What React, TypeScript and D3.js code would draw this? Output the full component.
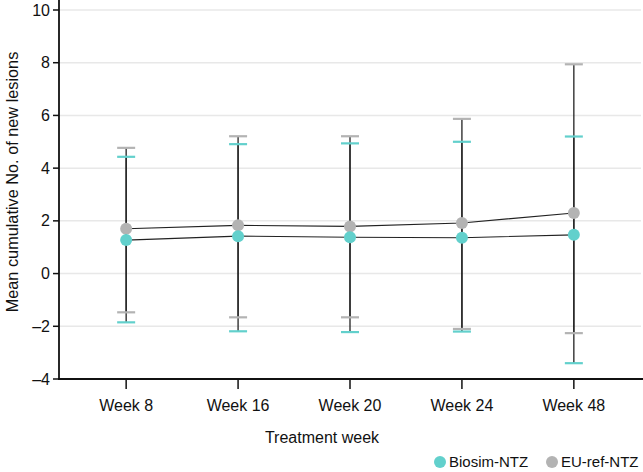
import React from "react";
import * as d3 from "d3";

const weeks = ["Week 8", "Week 16", "Week 20", "Week 24", "Week 48"];
const biosimMean = [1.27, 1.42, 1.38, 1.36, 1.47];
const biosimUpper = [4.43, 4.91, 4.94, 5.0, 5.2];
const biosimLower = [-1.85, -2.19, -2.22, -2.2, -3.4];
const euMean = [1.7, 1.83, 1.79, 1.92, 2.3];
const euUpper = [4.77, 5.21, 5.21, 5.87, 7.94];
const euLower = [-1.47, -1.66, -1.66, -2.1, -2.26];
const yTicks = [-4, -2, 0, 2, 4, 6, 8, 10];
const seriesNames = ["Biosim-NTZ", "EU-ref-NTZ"];

const W = 643;
const H = 472;
const TEAL = "#62d0cc";
const GRAY = "#b3b3b3";
const FONT = "'Liberation Sans', Arial, sans-serif";

export default function App() {
  const x = d3.scalePoint<string>().domain(weeks).range([59, 641]).padding(0.6);
  const y = d3.scaleLinear().domain([-4, 10]).range([379, 10]);

  const series = [
    { name: seriesNames[1], color: GRAY, mean: euMean, up: euUpper, lo: euLower },
    { name: seriesNames[0], color: TEAL, mean: biosimMean, up: biosimUpper, lo: biosimLower },
  ];

  const line = d3
    .line<number>()
    .x((_, i) => x(weeks[i]) as number)
    .y((d) => y(d));

  const capW = 9;

  return (
    <svg width={W} height={H} style={{ position: "absolute", left: 0, top: 0 }} fontFamily={FONT}>
      {yTicks.map((t) => (
        <line key={"g" + t} x1={59} x2={641} y1={y(t)} y2={y(t)} stroke="#e8e8e8" strokeWidth={1.5} />
      ))}
      {series.map((s) =>
        weeks.map((w, i) => (
          <line key={s.name + "s" + i} x1={x(w)} x2={x(w)} y1={y(s.up[i])} y2={y(s.lo[i])} stroke="#222" strokeWidth={1.3} />
        ))
      )}
      {[series[1], series[0]].map((s) =>
        weeks.map((w, i) => (
          <g key={s.name + "c" + i}>
            <line x1={(x(w) as number) - capW} x2={(x(w) as number) + capW} y1={y(s.up[i])} y2={y(s.up[i])} stroke={s.color} strokeWidth={2.2} />
            <line x1={(x(w) as number) - capW} x2={(x(w) as number) + capW} y1={y(s.lo[i])} y2={y(s.lo[i])} stroke={s.color} strokeWidth={2.2} />
          </g>
        ))
      )}
      {series.map((s) => (
        <path key={s.name + "l"} d={line(s.mean) || ""} fill="none" stroke="#222" strokeWidth={1.1} />
      ))}
      {series.map((s) =>
        weeks.map((w, i) => <circle key={s.name + "p" + i} cx={x(w)} cy={y(s.mean[i])} r={6} fill={s.color} />)
      )}
      <line x1={59} x2={59} y1={0} y2={380} stroke="#111" strokeWidth={1.8} />
      <line x1={58} x2={643} y1={379} y2={379} stroke="#111" strokeWidth={1.8} />
      {yTicks.map((t) => (
        <g key={"yt" + t}>
          <line x1={53} x2={59} y1={y(t)} y2={y(t)} stroke="#111" strokeWidth={1.5} />
          <text x={50} y={y(t)} dy="0.35em" textAnchor="end" fontSize={16} fill="#111">
            {t < 0 ? "\u2013" + Math.abs(t) : t}
          </text>
        </g>
      ))}
      {weeks.map((w) => (
        <g key={"xt" + w}>
          <line x1={x(w)} x2={x(w)} y1={379} y2={389} stroke="#111" strokeWidth={1.5} />
          <text x={x(w)} y={405} dy="0.35em" textAnchor="middle" fontSize={16} fill="#111">
            {w}
          </text>
        </g>
      ))}
      <text x={322} y={437} dy="0.35em" textAnchor="middle" fontSize={16} fill="#111">
        Treatment week
      </text>
      <text transform={`translate(12,182) rotate(-90)`} textAnchor="middle" dy="0.35em" fontSize={16.3} fill="#111">
        Mean cumulative No. of new lesions
      </text>
      <circle cx={440} cy={462} r={6} fill={TEAL} />
      <text x={449} y={462} dy="0.35em" fontSize={15} fill="#111">
        {seriesNames[0]}
      </text>
      <circle cx={552} cy={462} r={6} fill={GRAY} />
      <text x={561} y={462} dy="0.35em" fontSize={15} fill="#111">
        {seriesNames[1]}
      </text>
    </svg>
  );
}
